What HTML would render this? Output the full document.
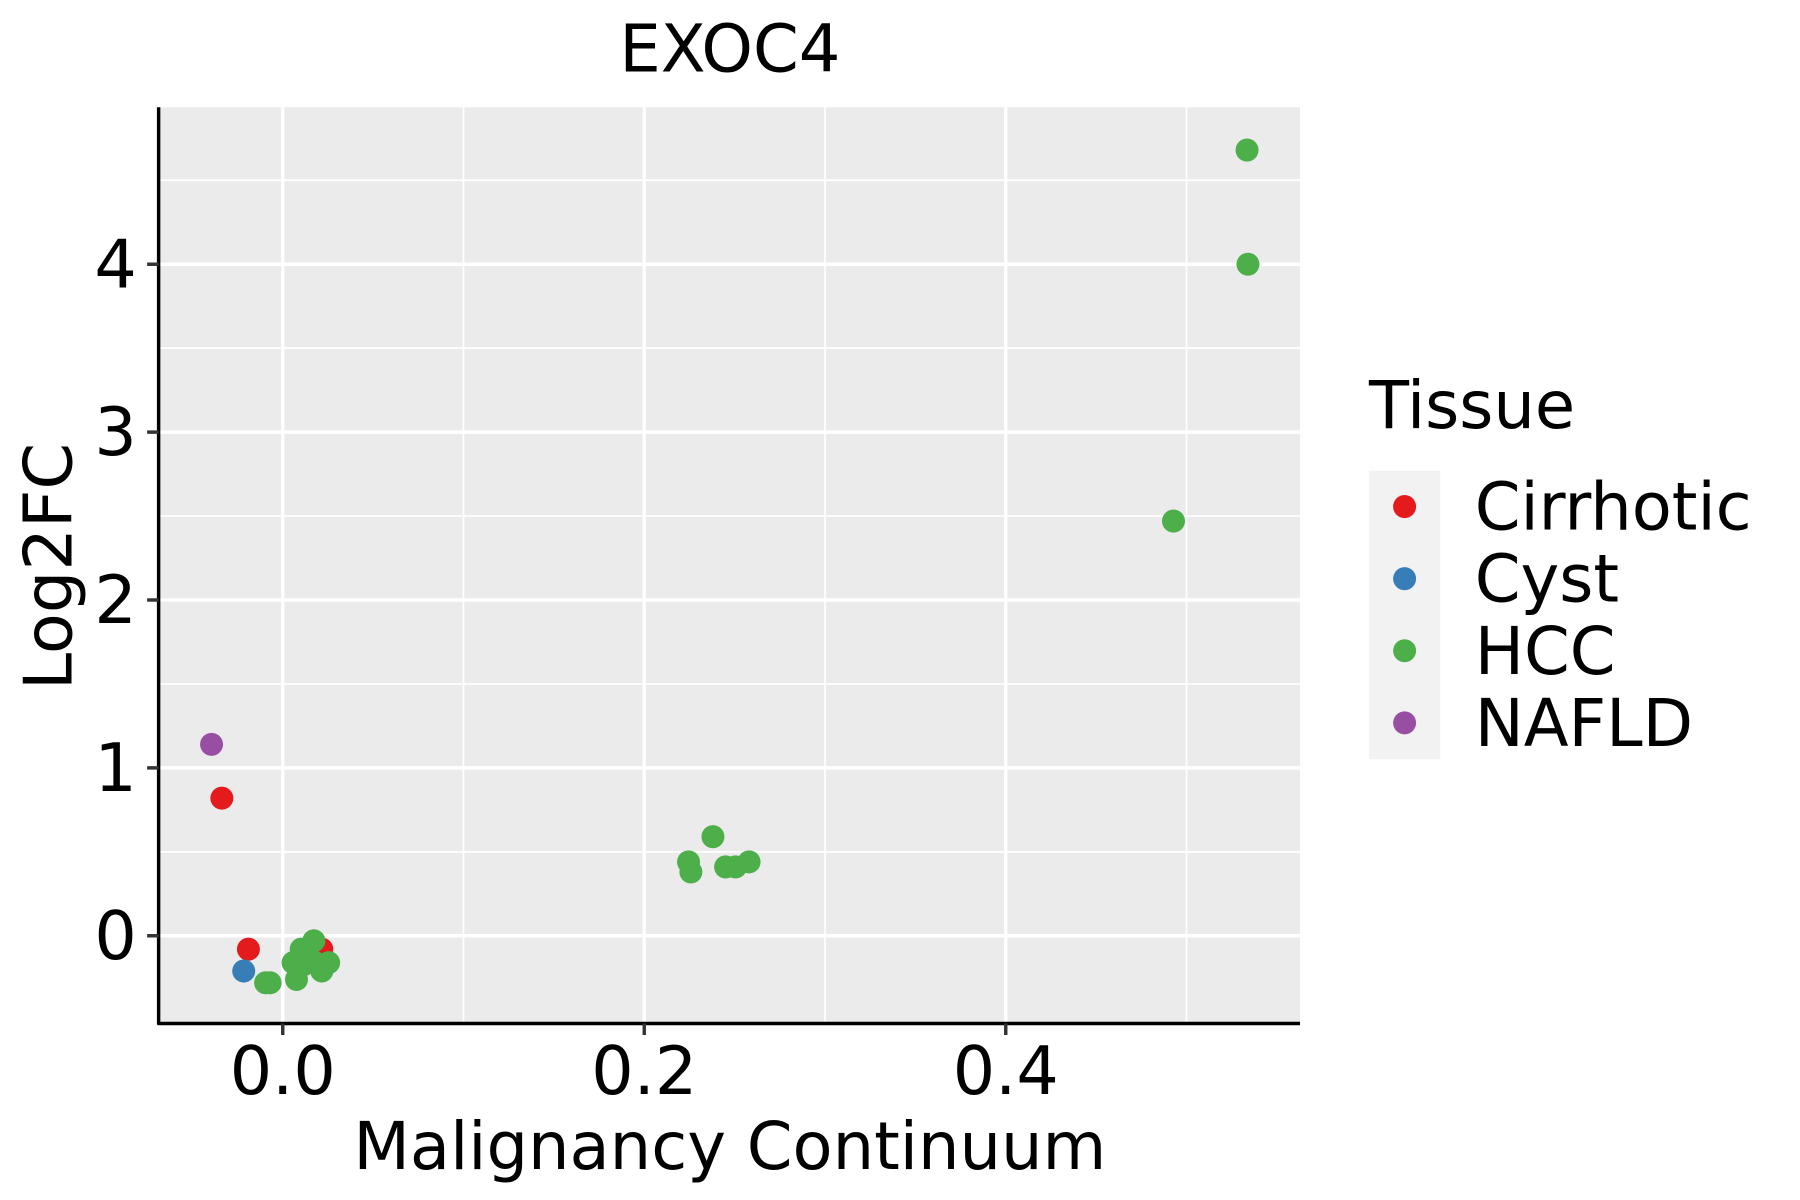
<!DOCTYPE html>
<html><head><meta charset="utf-8"><style>
html,body{margin:0;padding:0;background:#fff;}
svg{display:block;}
text{font-family:"DejaVu Sans","Liberation Sans",sans-serif;fill:#000;}
</style></head><body>
<svg id="chart" width="1800" height="1200" viewBox="0 0 1566 1040" preserveAspectRatio="none" xmlns="http://www.w3.org/2000/svg">
<text x="635" y="62" font-size="57" text-anchor="middle">EXOC4</text>
<rect x="138" y="93" width="993" height="794" fill="#ebebeb"/>
<g id="grid"></g>
<g id="points"></g>
<line x1="138" y1="93" x2="138" y2="888" stroke="#000" stroke-width="3"/>
<line x1="137" y1="887" x2="1131" y2="887" stroke="#000" stroke-width="3"/>
<g id="ticks"></g>
<text x="635" y="1013" font-size="57" text-anchor="middle">Malignancy Continuum</text>
<text transform="translate(62,491) rotate(-90)" font-size="58" text-anchor="middle">Log2FC</text>
<g>
<text x="1191" y="371" font-size="57">Tissue</text>
<rect x="1191" y="408" width="62" height="250" fill="#f2f2f2"/>
<g id="legend-entries"></g>
</g>
</svg>
<script>
const xTicks = [0.0, 0.2, 0.4];
const xTickLabels = ["0.0", "0.2", "0.4"];
const xMinor = [0.1, 0.3, 0.5];
const yTicks = [0, 1, 2, 3, 4];
const yTickLabels = ["0", "1", "2", "3", "4"];
const yMinor = [0.5, 1.5, 2.5, 3.5, 4.5];
const tissues = ["Cirrhotic", "Cyst", "HCC", "NAFLD"];
const tissueColors = ["#e41a1c", "#377eb8", "#4daf4a", "#984ea3"];
const nafldX = [-0.0394];
const nafldY = [1.14];
const cirrhoticX = [-0.0337, -0.019, 0.0216];
const cirrhoticY = [0.82, -0.08, -0.08];
const cystX = [-0.0216];
const cystY = [-0.21];
const hccX = [-0.0095, -0.007, 0.0076, 0.0057, 0.0102, 0.0172, 0.014, 0.0216, 0.0254, 0.018, 0.012, 0.2245, 0.2258, 0.238, 0.245, 0.2505, 0.258, 0.4928, 0.5335, 0.534];
const hccY = [-0.28, -0.28, -0.26, -0.16, -0.08, -0.03, -0.12, -0.21, -0.16, -0.16, -0.17, 0.44, 0.38, 0.59, 0.41, 0.41, 0.44, 2.47, 4.68, 4.0];

const NS = "http://www.w3.org/2000/svg";
function sx(v){ return 246 + v * 1572.5; }
function sy(v){ return 811 - v * 145.5; }
function mk(tag, attrs, parent){
  const e = document.createElementNS(NS, tag);
  for (const k in attrs) e.setAttribute(k, attrs[k]);
  parent.appendChild(e);
  return e;
}
const grid = document.getElementById("grid");
xMinor.forEach(v => {
  const l = mk("line", {x1: sx(v), x2: sx(v), y1: 93, y2: 887, stroke: "#fff", "stroke-width": 1.5}, grid);
  
  
});
yMinor.forEach(v => {
  const l = mk("line", {x1: 138, x2: 1131, y1: sy(v), y2: sy(v), stroke: "#fff", "stroke-width": 1.5}, grid);
  
  
});
const ticks = document.getElementById("ticks");
xTicks.forEach((v, i) => {
  const l = mk("line", {x1: sx(v), x2: sx(v), y1: 93, y2: 887, stroke: "#fff", "stroke-width": 3}, grid);
  
  
  const t = mk("line", {x1: sx(v), x2: sx(v), y1: 887, y2: 897, stroke: "#333", "stroke-width": 3}, ticks);
  
  
  const tx = mk("text", {x: sx(v), y: 948, "font-size": 58, "text-anchor": "middle"}, ticks);
  tx.textContent = xTickLabels[i];
  
  
});
yTicks.forEach((v, i) => {
  const l = mk("line", {x1: 138, x2: 1131, y1: sy(v), y2: sy(v), stroke: "#fff", "stroke-width": 3}, grid);
  
  
  const t = mk("line", {x1: 128, x2: 138, y1: sy(v), y2: sy(v), stroke: "#333", "stroke-width": 3}, ticks);
  
  
  const tx = mk("text", {x: 119, y: sy(v) + 20, "font-size": 58, "text-anchor": "end"}, ticks);
  tx.textContent = yTickLabels[i];
  
  
});
const pts = document.getElementById("points");
function drawSeries(xs, ys, color, name){
  xs.forEach((x, i) => {
    const c = mk("circle", {cx: sx(x), cy: sy(ys[i]), r: 10, fill: color}, pts);
    
    
  });
}
drawSeries(nafldX, nafldY, tissueColors[3], "nafld");
drawSeries(cirrhoticX, cirrhoticY, tissueColors[0], "cirrhotic");
drawSeries(cystX, cystY, tissueColors[1], "cyst");
drawSeries(hccX, hccY, tissueColors[2], "hcc");
const leg = document.getElementById("legend-entries");
tissues.forEach((n, i) => {
  const cy = 439 + i * 62.5;
  const c = mk("circle", {cx: 1222, cy: cy, r: 10, fill: tissueColors[i]}, leg);
  
  
  const t = mk("text", {x: 1283, y: cy + 20, "font-size": 57}, leg);
  t.textContent = n;
  
  
});
</script>
</body></html>
